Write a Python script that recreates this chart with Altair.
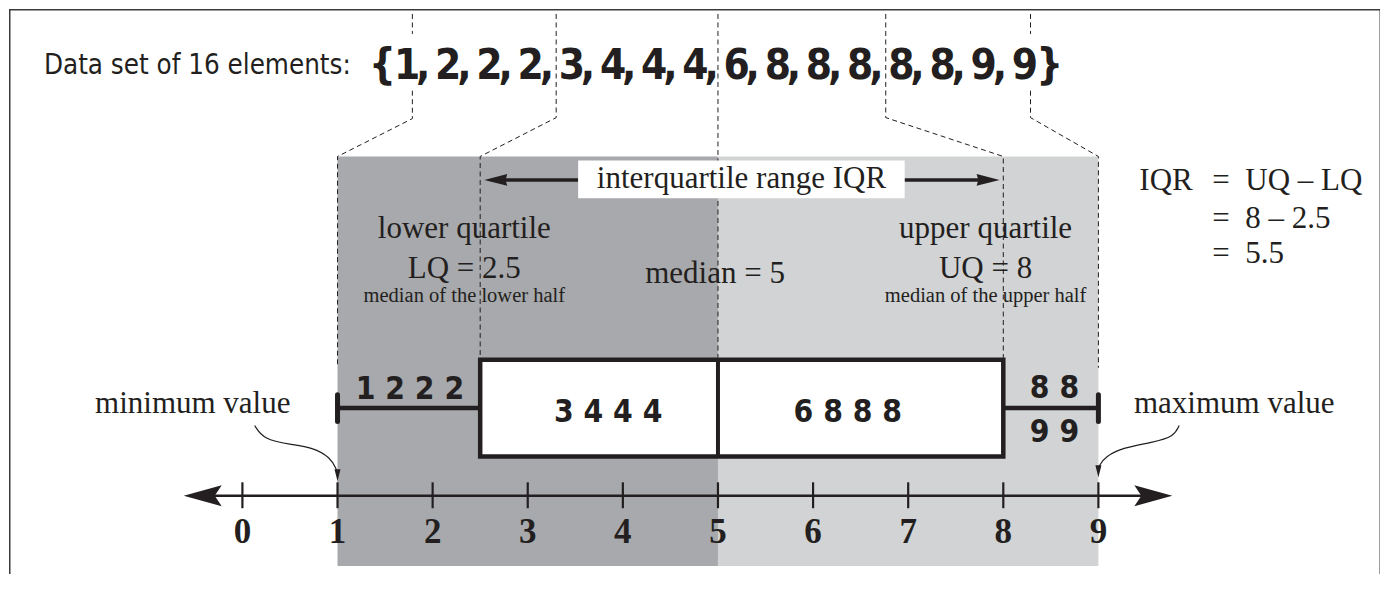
import altair as alt
import pandas as pd

# ---------------- data ----------------
data_set = [1, 2, 2, 2, 3, 4, 4, 4, 6, 8, 8, 8, 8, 8, 9, 9]
five_numbers = [1, 2.5, 5, 8, 9]            # min, LQ, median, UQ, max
axis_ticks = [0, 1, 2, 3, 4, 5, 6, 7, 8, 9]

# ---------------- styling / layout ----------------
W, H = 1372, 566
INK = "#231f20"
FRAME = "#3a3a3a"
DARK = "#a7a9ac"
LIGHT = "#d1d3d4"
SERIF = "Liberation Serif, Times New Roman, serif"
COND = "DejaVu Sans Condensed, Liberation Sans Narrow, sans-serif"

# x in data units (number-line values), y in page pixels from the top
XS = alt.Scale(domain=[-2.45407, 11.95013], nice=False, zero=False)
YS = alt.Scale(domain=[8, 8 + H], reverse=True, nice=False, zero=False)
IS = alt.Scale(domain=[-9.6642, 23.5964], nice=False, zero=False)  # element index scale


def X(f, scale=XS):
    return alt.X(f"{f}:Q", scale=scale, axis=None)


def Y(f):
    return alt.Y(f"{f}:Q", scale=YS, axis=None)


mn, lq, med, uq, mx = five_numbers

# ---- shaded halves ----
shade_df = pd.DataFrame({"x": [mn, med], "x2": [med, mx], "y": [156, 156],
                         "y2": [567, 567], "fill": [DARK, LIGHT]})
shade = alt.Chart(shade_df).mark_rect().encode(
    x=X("x"), x2="x2:Q", y=Y("y"), y2="y2:Q", color=alt.Color("fill:N", scale=None))

# ---- dashed guide lines ----
paths = {
    "A1": [(1.787, 13), (1.787, 33)],
    "A2": [(1.787, 90), (1.787, 118), (mn, 156), (mn, 368)],
    "B": [(3.299, 13), (3.299, 117), (lq, 156), (lq, 358)],
    "C": [(med, 13), (med, 358)],
    "D": [(6.764, 13), (6.764, 117), (uq, 156), (uq, 358)],
    "E1": [(8.286, 13), (8.286, 33)],
    "E2": [(8.286, 90), (8.286, 117), (mx, 156), (mx, 368)],
}
dash_rows = []
for name, pts in paths.items():
    for k, (px, py) in enumerate(pts):
        dash_rows.append({"path": name, "k": k, "x": px, "y": py})
dashed = alt.Chart(pd.DataFrame(dash_rows)).mark_line(
    color=INK, strokeWidth=1, strokeDash=[5, 3.5]).encode(
    x=X("x"), y=Y("y"), detail="path:N", order="k:Q")

# ---- box, median, whiskers ----
box = alt.Chart(pd.DataFrame({"x": [lq], "x2": [uq], "y": [360], "y2": [457]})).mark_rect(
    fill="white", stroke=INK, strokeWidth=4.5).encode(x=X("x"), x2="x2:Q", y=Y("y"), y2="y2:Q")
median_rule = alt.Chart(pd.DataFrame({"x": [med], "y": [360], "y2": [457]})).mark_rule(
    color=INK, strokeWidth=4).encode(x=X("x"), y=Y("y"), y2="y2:Q")
whiskers = alt.Chart(pd.DataFrame({"x": [mn, uq], "x2": [lq, mx], "y": [408.5, 408.5]})).mark_rule(
    color=INK, strokeWidth=4.5).encode(x=X("x"), x2="x2:Q", y=Y("y"))
caps = alt.Chart(pd.DataFrame({"x": [mn, mx], "y": [395, 395], "y2": [422, 422]})).mark_rule(
    color=INK, strokeWidth=5, strokeCap="round").encode(x=X("x"), y=Y("y"), y2="y2:Q")

# ---- number line ----
axis_line = alt.Chart(pd.DataFrame({"x": [-0.5], "x2": [9.65], "y": [496.5]})).mark_rule(
    color=INK, strokeWidth=2.5).encode(x=X("x"), x2="x2:Q", y=Y("y"))
ticks = alt.Chart(pd.DataFrame({"x": axis_ticks, "y": [483] * 10, "y2": [509] * 10})).mark_rule(
    color=INK, strokeWidth=2.2).encode(x=X("x"), y=Y("y"), y2="y2:Q")
LEFT_STEALTH = "M0,0 L2,-0.55 L1.63,0 L2,0.55 Z"
RIGHT_STEALTH = "M0,0 L-2,-0.55 L-1.63,0 L-2,0.55 Z"
arrow_l = alt.Chart(pd.DataFrame({"x": [-0.617], "y": [496.5]})).mark_point(
    shape=LEFT_STEALTH, size=1444, filled=True, color=INK, opacity=1, strokeWidth=0).encode(
    x=X("x"), y=Y("y"))
arrow_r = alt.Chart(pd.DataFrame({"x": [9.777], "y": [496.5]})).mark_point(
    shape=RIGHT_STEALTH, size=1444, filled=True, color=INK, opacity=1, strokeWidth=0).encode(
    x=X("x"), y=Y("y"))
tick_labels = alt.Chart(pd.DataFrame({"x": axis_ticks, "y": [544] * 10,
                                      "text": [str(t) for t in axis_ticks]})).mark_text(
    font=SERIF, fontWeight="bold", fontSize=35, align="center", baseline="alphabetic",
    color=INK).encode(x=X("x"), y=Y("y"), text="text:N")

# ---- curved pointers to min / max ----
curve_rows = []
min_curve = [(0.129, 426), (0.223, 440), (0.507, 445), (0.738, 448), (0.926, 458), (0.989, 470), (1.0, 474)]
max_curve = [(9.849, 426), (9.797, 437), (9.566, 443), (9.262, 448), (9.073, 457), (9.01, 466), (9.0, 470)]
for name, pts in [("min", min_curve), ("max", max_curve)]:
    for k, (px, py) in enumerate(pts):
        curve_rows.append({"path": name, "k": k, "x": px, "y": py})
curves = alt.Chart(pd.DataFrame(curve_rows)).mark_line(
    color=INK, strokeWidth=1.2, interpolate="basis").encode(
    x=X("x"), y=Y("y"), detail="path:N", order="k:Q")
DOWN_HEAD = "M0,0 L-0.5,-2 L0.5,-2 Z"
curve_heads = alt.Chart(pd.DataFrame({"x": [mn, mx], "y": [482, 478]})).mark_point(
    shape=DOWN_HEAD, size=144, filled=True, color=INK, opacity=1, strokeWidth=0).encode(
    x=X("x"), y=Y("y"))

# ---- IQR arrows and label ----
iqr_lines = alt.Chart(pd.DataFrame({"x": [2.62, 6.96], "x2": [3.53, 7.88], "y": [179.5, 179.5]})).mark_rule(
    color=INK, strokeWidth=3.5).encode(x=X("x"), x2="x2:Q", y=Y("y"))
SMALL_L = "M0,0 L2,-0.52 L1.85,0 L2,0.52 Z"
SMALL_R = "M0,0 L-2,-0.52 L-1.85,0 L-2,0.52 Z"
iqr_head_l = alt.Chart(pd.DataFrame({"x": [2.543], "y": [179.5]})).mark_point(
    shape=SMALL_L, size=529, filled=True, color=INK, opacity=1, strokeWidth=0).encode(x=X("x"), y=Y("y"))
iqr_head_r = alt.Chart(pd.DataFrame({"x": [7.961], "y": [179.5]})).mark_point(
    shape=SMALL_R, size=529, filled=True, color=INK, opacity=1, strokeWidth=0).encode(x=X("x"), y=Y("y"))
iqr_box = alt.Chart(pd.DataFrame({"x": [3.530], "x2": [6.963], "y": [160], "y2": [198]})).mark_rect(
    fill="white").encode(x=X("x"), x2="x2:Q", y=Y("y"), y2="y2:Q")

# ---- serif labels ----
serif_center = pd.DataFrame([
    {"text": "interquartile range IQR", "x": 5.247, "y": 188, "fs": 31},
    {"text": "lower quartile", "x": 2.333, "y": 238, "fs": 31},
    {"text": "LQ = 2.5", "x": 2.333, "y": 278, "fs": 31},
    {"text": "median of the lower half", "x": 2.333, "y": 302, "fs": 20.5},
    {"text": "median = 5", "x": 4.969, "y": 283, "fs": 31},
    {"text": "upper quartile", "x": 7.814, "y": 238, "fs": 31},
    {"text": "UQ = 8", "x": 7.814, "y": 278, "fs": 31},
    {"text": "median of the upper half", "x": 7.814, "y": 302, "fs": 20.5},
    {"text": "minimum value", "x": -0.522, "y": 413, "fs": 31},
    {"text": "maximum value", "x": 10.428, "y": 413, "fs": 31},
])
serif_left = pd.DataFrame([
    {"text": "IQR", "x": 9.430, "y": 190, "fs": 31},
    {"text": "=\u2002UQ \u2013 LQ", "x": 10.197, "y": 190, "fs": 31},
    {"text": "=\u20028 \u2013 2.5", "x": 10.197, "y": 228, "fs": 31},
    {"text": "=\u20025.5", "x": 10.197, "y": 263, "fs": 31},
])


def text_layer(df, font, weight, align):
    return alt.Chart(df).mark_text(font=font, fontWeight=weight, align=align,
                                   baseline="alphabetic", color=INK).encode(
        x=X("x"), y=Y("y"), text="text:N", size=alt.Size("fs:Q", scale=None))


t_serif_c = text_layer(serif_center, SERIF, "normal", "center")
t_serif_l = text_layer(serif_left, SERIF, "normal", "left")

# ---- grouped values in the box plot ----
groups = pd.DataFrame([
    {"text": " ".join(map(str, data_set[0:4])), "x": 1.761, "y": 399, "fs": 31.5},
    {"text": " ".join(map(str, data_set[4:8])), "x": 3.845, "y": 422, "fs": 31.5},
    {"text": " ".join(map(str, data_set[8:12])), "x": 6.365, "y": 422, "fs": 31.5},
    {"text": " ".join(map(str, data_set[12:14])), "x": 8.538, "y": 398, "fs": 31.5},
    {"text": " ".join(map(str, data_set[14:16])), "x": 8.538, "y": 443, "fs": 31.5},
])
t_groups = text_layer(groups, COND, "bold", "center")

# ---- heading ----
heading = text_layer(pd.DataFrame([{"text": "Data set of 16 elements:", "x": -2.087, "y": 73, "fs": 27.5}]),
                     COND, "normal", "left")

# ---- data set elements, positioned by index ----
digits_df = pd.DataFrame({"i": list(range(len(data_set))), "text": [str(v) for v in data_set], "y": 78})
commas_df = pd.DataFrame({"i": list(range(len(data_set) - 1)), "text": [","] * (len(data_set) - 1), "y": 78})
braces_df = pd.DataFrame({"i": [-0.6, 15.6], "text": ["{", "}"], "y": 78})
SET_FS = 42
set_digits = alt.Chart(pd.concat([digits_df, braces_df], ignore_index=True)).mark_text(
    font=COND, fontWeight="bold", fontSize=SET_FS, align="center", baseline="alphabetic",
    color=INK).encode(x=X("i", IS), y=Y("y"), text="text:N")
set_commas = alt.Chart(commas_df).mark_text(
    font=COND, fontWeight="bold", fontSize=SET_FS, align="left", baseline="alphabetic",
    dx=9, color=INK).encode(x=X("i", IS), y=Y("y"), text="text:N")

# ---- frame ----
one = pd.DataFrame({"a": [0]})
frame_top = alt.Chart(one).mark_rule(color=FRAME, strokeWidth=1.5).encode(
    x=alt.value(0), x2=alt.value(W), y=alt.value(0.75))
frame_left = alt.Chart(one).mark_rule(color=FRAME, strokeWidth=1.5).encode(
    x=alt.value(0.75), y=alt.value(0), y2=alt.value(H))
frame_right = alt.Chart(one).mark_rule(color=FRAME, strokeWidth=1.5).encode(
    x=alt.value(W - 0.75), y=alt.value(0), y2=alt.value(H))

chart = alt.layer(
    shade, dashed, box, median_rule, whiskers, caps,
    axis_line, ticks, arrow_l, arrow_r, tick_labels,
    curves, curve_heads,
    iqr_lines, iqr_head_l, iqr_head_r, iqr_box,
    t_serif_c, t_serif_l, t_groups, heading, set_digits, set_commas,
    frame_top, frame_left, frame_right,
).resolve_scale(x="independent").properties(
    width=W, height=H, padding=0,
    autosize=alt.AutoSizeParams(type="fit", contains="padding"),
).configure_view(stroke=None)

chart.save("out.html", embed_options={"renderer": "svg", "actions": False})
